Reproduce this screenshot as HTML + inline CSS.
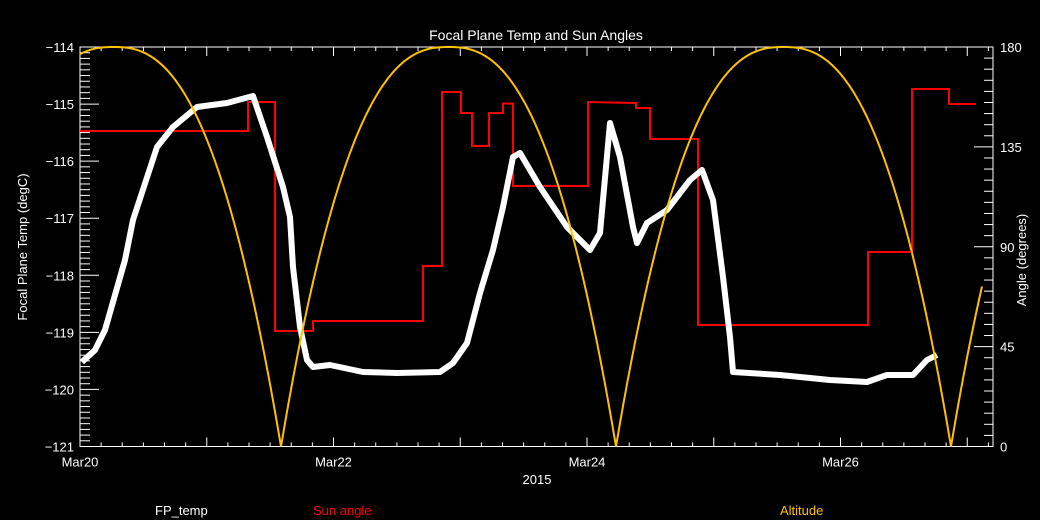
<!DOCTYPE html>
<html><head><meta charset="utf-8"><style>
html,body{margin:0;padding:0;background:#000;}
svg{display:block;font-family:"Liberation Sans",sans-serif;}
</style></head><body>
<svg id="s" width="1040" height="520" xmlns="http://www.w3.org/2000/svg">
<rect width="1040" height="520" fill="#000"/>
<text x="536" y="40" fill="#fff" font-size="14" text-anchor="middle">Focal Plane Temp and Sun Angles</text>
<text x="0" y="0" fill="#fff" font-size="13" text-anchor="middle" transform="translate(27,247) rotate(-90)">Focal Plane Temp (degC)</text>
<text x="0" y="0" fill="#fff" font-size="13" text-anchor="middle" transform="translate(1026,260) rotate(-90)">Angle (degrees)</text>
<text x="537" y="484" fill="#fff" font-size="13" text-anchor="middle">2015</text>
<text x="155" y="515" fill="#fff" font-size="13">FP_temp</text>
<text x="313" y="515" fill="#ff0000" font-size="13">Sun angle</text>
<text x="780" y="515" fill="#ffc000" font-size="13">Altitude</text>
<g id="g"></g>
</svg>
<script>
var g=document.getElementById('g'),h='';
var L=80,R=993,T=47,B=446.5;
function ln(x1,y1,x2,y2,c,w){h+='<line x1="'+x1+'" y1="'+y1+'" x2="'+x2+'" y2="'+y2+'" stroke="'+(c||'#fff')+'" stroke-width="'+(w||1)+'"/>';}
function tx(x,y,s,a,c){h+='<text x="'+x+'" y="'+y+'" fill="'+(c||'#fff')+'" font-size="13" text-anchor="'+a+'">'+s+'</text>';}
h+='<rect x="'+L+'" y="'+T+'" width="'+(R-L)+'" height="'+(B-T)+'" fill="none" stroke="#fff" stroke-width="1"/>';
var py=(B-T)/7;
for(var i=0;i<=70;i++){var y=T+i*py/10,m=i%10==0;ln(L,y,L+(m?19:10),y);if(m)tx(L-6,y+5,'\u2212'+(114+i/10),'end');}
var ay=(B-T)/180;
for(var i=0;i<=36;i++){var y=B-i*5*ay,m=i%9==0;ln(R,y,R-(m?19:9),y);if(m)tx(R+7,y+5,i*5,'start');}
var dx=126.75;
for(var i=0;i<=43;i++){var x=L+i*dx/6;if(x>R)break;var m=i%6==0;ln(x,B,x,B-(m?9:4));ln(x,T,x,T+(m?9:4));}
['Mar20','Mar22','Mar24','Mar26'].forEach(function(s,k){tx(L+k*2*dx,B+20,s,'middle');});
// altitude
var p=[];for(var x=L;x<=982;x+=1){var f=((x-281)%335+335)%335;var d=Math.min(f,335-f);var u=d/167.5;var v=180*(1-Math.pow(1-u,2.5));p.push(x+','+(B-v*ay).toFixed(1));}
// red steps
var r=[[80,131],[248,131],[248,102],[275,102],[275,331],[313,331],[313,321],[423,321],[423,266],[442,266],[442,92],[461,92],[461,113],[472,113],[472,146],[489,146],[489,113],[503,113],[503,103.5],[513,103.5],[513,186],[588,186],[588,102],[636,103],[636,108],[650,108],[650,139],[698,139],[698,325],[868,325],[868,252],[912,252],[912,89],[949,89],[949,104],[976,104]];
h+='<polyline fill="none" stroke="#ff0000" stroke-width="2" points="'+r.map(function(a){return a.join(',')}).join(' ')+'"/>';
var w=[[82,362],[95,350],[105,330],[115,295],[125,260],[133,220],[157,147],[173,127],[197,107],[227,103],[253,96],[267,137],[283,187],[290,217],[293,267],[300,327],[307,360],[313,367],[330,365],[363,372],[397,373],[440,372],[453,363],[467,343],[480,293],[493,250],[503,207],[513,157],[520,153],[540,187],[567,227],[590,250],[600,233],[610,123],[620,157],[633,227],[637,243],[647,223],[667,210],[690,180],[702,170],[713,200],[723,277],[730,337],[733,372],[780,375],[830,380],[867,382],[887,375],[913,375],[927,360],[937,355]];
h+='<polyline fill="none" stroke="#fff" stroke-width="6" stroke-linejoin="round" points="'+w.map(function(a){return a.join(',')}).join(' ')+'"/>';
h+='<polyline fill="none" stroke="#ffc000" stroke-width="2" points="'+p.join(' ')+'"/>';
g.innerHTML=h;
</script>
</body></html>
